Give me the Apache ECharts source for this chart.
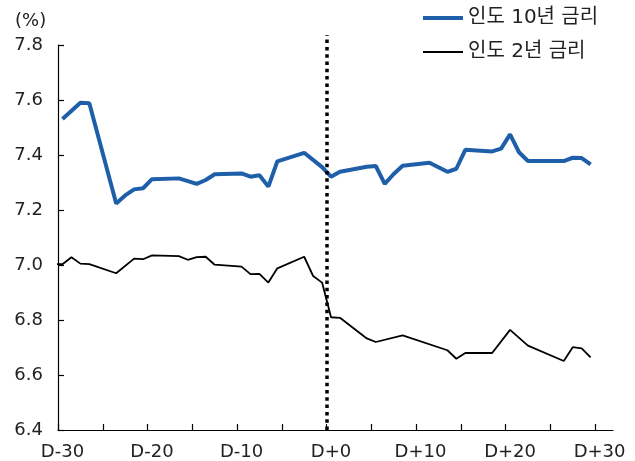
<!DOCTYPE html>
<html>
<head>
<meta charset="utf-8">
<script src="https://cdn.jsdelivr.net/npm/echarts@6/dist/echarts.min.js"></script>
<style>
  html, body { margin: 0; padding: 0; background: #fff; }
  #chart { width: 635px; height: 461px; }
</style>
</head>
<body>
<div id="chart"></div>
<script>
// Indian government bond yields (%) around event day D+0
const seriesNames = ['인도 10년 금리', '인도 2년 금리'];

// 10-year yield: trading-day offsets and yields
const tenYearDays = [-30, -28, -27, -24, -23, -22, -21, -20, -17, -15, -14, -13, -10, -9, -8, -7, -6, -3, -1, 0, 1, 4, 5, 6, 7, 8, 11, 13, 14, 15, 18, 19, 20, 21, 22, 26, 27, 28, 29];
const tenYearRates = [7.531, 7.590, 7.588, 7.224, 7.253, 7.275, 7.279, 7.312, 7.315, 7.295, 7.309, 7.330, 7.333, 7.321, 7.326, 7.285, 7.377, 7.408, 7.356, 7.321, 7.339, 7.357, 7.360, 7.295, 7.331, 7.361, 7.372, 7.339, 7.350, 7.419, 7.413, 7.423, 7.475, 7.410, 7.378, 7.378, 7.390, 7.389, 7.366];

// 2-year yield: trading-day offsets and yields
const twoYearDays = [-31, -30, -29, -28, -27, -24, -22, -21, -20, -17, -16, -15, -14, -13, -10, -9, -8, -7, -6, -3, -2, -1, 0, 1, 4, 5, 8, 13, 14, 15, 18, 20, 22, 26, 27, 28, 29];
const twoYearRates = [7.003, 7.003, 7.028, 7.005, 7.003, 6.970, 7.023, 7.021, 7.035, 7.032, 7.019, 7.029, 7.030, 7.001, 6.994, 6.967, 6.968, 6.936, 6.988, 7.030, 6.960, 6.936, 6.810, 6.808, 6.733, 6.720, 6.744, 6.690, 6.659, 6.680, 6.680, 6.764, 6.707, 6.651, 6.701, 6.697, 6.664];

// x axis: labelled days, tick positions sit on day boundaries
const dayLabels = [-30, -20, -10, 0, 10, 20, 30];
const dayTicks = [-30.5, -25.5, -20.5, -15.5, -10.5, -5.5, -0.5, 4.5, 9.5, 14.5, 19.5, 24.5, 29.5];
const eventBoundary = -0.5;

// y axis range
const yMin = 6.4, yMax = 7.8, yStep = 0.2;

const FONT = "'DejaVu Sans', 'Noto Sans CJK KR', sans-serif";
const BLUE = '#1f5faa';
const zip = (xs, ys) => xs.map((x, i) => [x, ys[i]]);

const chart = echarts.init(document.getElementById('chart'), null, { renderer: 'canvas' });
chart.setOption({
  animation: false,
  backgroundColor: '#ffffff',
  grid: { left: 58, right: 22, top: 45, bottom: 31, containLabel: false },
  legend: {
    data: [
      { name: seriesNames[0], lineStyle: { color: BLUE, width: 4 } },
      { name: seriesNames[1], lineStyle: { color: '#000', width: 2 } }
    ],
    orient: 'vertical',
    left: 421,
    top: 8,
    padding: 0,
    itemWidth: 40,
    itemHeight: 20,
    itemGap: 14,
    itemStyle: { color: 'transparent', borderColor: 'transparent', borderWidth: 0, opacity: 0 },
    textStyle: { fontFamily: FONT, fontSize: 20, color: '#222' }
  },
  graphic: [{
    type: 'text',
    left: 15,
    top: 12,
    style: { text: '(%)', font: '18px ' + FONT, fill: '#222' }
  }],
  xAxis: {
    type: 'value',
    min: -30.5,
    max: 31.5,
    axisLine: { show: true, onZero: false, lineStyle: { color: '#000', width: 1.2 } },
    axisTick: { show: true, inside: true, length: 6, customValues: dayTicks, lineStyle: { color: '#000', width: 1.2 } },
    axisLabel: {
      customValues: dayLabels,
      margin: 13,
      fontFamily: FONT,
      fontSize: 18,
      color: '#222',
      formatter: v => (v >= 0 ? 'D+' + v : 'D' + v)
    },
    splitLine: { show: false }
  },
  yAxis: {
    type: 'value',
    min: yMin,
    max: yMax,
    interval: yStep,
    axisLine: { show: true, onZero: false, lineStyle: { color: '#000', width: 1.2 } },
    axisTick: { show: true, inside: true, length: 6, lineStyle: { color: '#000', width: 1.2 } },
    axisLabel: {
      margin: 15,
      fontFamily: FONT,
      fontSize: 18,
      color: '#222',
      formatter: v => v.toFixed(1)
    },
    splitLine: { show: false }
  },
  series: [
    {
      name: seriesNames[0],
      type: 'line',
      data: zip(tenYearDays, tenYearRates),
      symbol: 'none',
      color: BLUE,
      lineStyle: { color: BLUE, width: 4 },
      z: 3
    },
    {
      name: seriesNames[1],
      type: 'line',
      data: zip(twoYearDays, twoYearRates),
      symbol: 'none',
      color: '#000',
      lineStyle: { color: '#000', width: 1.8 },
      z: 2,
      markLine: {
        silent: true,
        symbol: 'none',
        label: { show: false },
        lineStyle: { color: '#000', type: [3.5, 3.8], width: 3.5 },
        data: [[
          { xAxis: eventBoundary, yAxis: yMin },
          { xAxis: eventBoundary, y: 35 }
        ]]
      }
    }
  ]
});
</script>
</body>
</html>
